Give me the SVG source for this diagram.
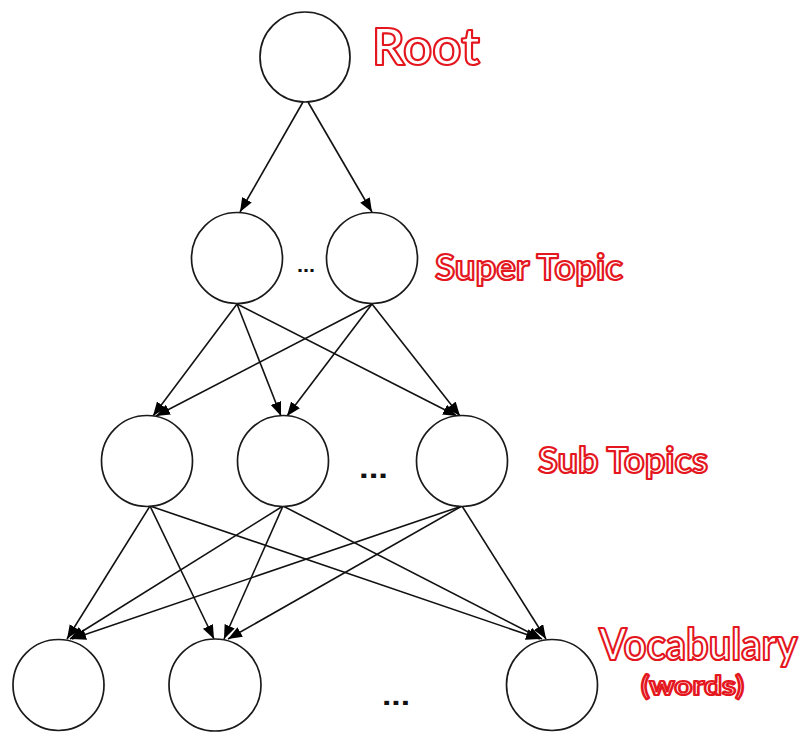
<svg xmlns="http://www.w3.org/2000/svg" width="808" height="733" viewBox="0 0 808 733">
  <defs>
    <marker id="arrow" markerUnits="userSpaceOnUse" markerWidth="15" markerHeight="12" refX="14" refY="5.5" orient="auto">
      <path d="M0,0 L14,5.5 L0,11 Z" fill="#000"/>
    </marker>
    <style>
      .node { fill: #fff; stroke: #1a1a1a; stroke-width: 1.7; }
      .edge { stroke: #111; stroke-width: 1.6; fill: none; marker-end: url(#arrow); }
      .label { font-family: Lato, "Liberation Sans", sans-serif; font-weight: bold; fill: #fff; stroke: #e4161e; stroke-width: 2.2; stroke-linejoin: round; }
      .dots { font-family: "Liberation Sans", Arial, sans-serif; font-weight: bold; fill: #111; }
    </style>
  </defs>
  <rect width="808" height="733" fill="#fff"/>

  <!-- connectors -->
  <g id="edges">
    <!-- root to super topics -->
    <line class="edge" x1="303" y1="102" x2="240" y2="212"/>
    <line class="edge" x1="308" y1="102" x2="372" y2="212"/>
    <!-- super topics to sub topics -->
    <line class="edge" x1="237" y1="304" x2="153" y2="416"/>
    <line class="edge" x1="237" y1="304" x2="281" y2="416"/>
    <line class="edge" x1="237" y1="304" x2="457" y2="416"/>
    <line class="edge" x1="372" y1="304" x2="156" y2="416"/>
    <line class="edge" x1="372" y1="304" x2="287" y2="416"/>
    <line class="edge" x1="372" y1="304" x2="460" y2="416"/>
    <!-- sub topics to vocabulary -->
    <line class="edge" x1="150" y1="506" x2="67" y2="639"/>
    <line class="edge" x1="150" y1="506" x2="214" y2="639"/>
    <line class="edge" x1="150" y1="506" x2="540" y2="639"/>
    <line class="edge" x1="283" y1="506" x2="70" y2="639"/>
    <line class="edge" x1="283" y1="506" x2="224" y2="639"/>
    <line class="edge" x1="283" y1="506" x2="542" y2="639"/>
    <line class="edge" x1="462" y1="506" x2="72" y2="639"/>
    <line class="edge" x1="462" y1="506" x2="228" y2="639"/>
    <line class="edge" x1="462" y1="506" x2="546" y2="639"/>
  </g>

  <!-- root -->
  <g id="root">
    <circle class="node" cx="305" cy="57" r="45"/>
    <text class="label" x="372" y="65" font-size="52" textLength="108" lengthAdjust="spacingAndGlyphs">Root</text>
  </g>

  <!-- super topics -->
  <g id="super-1">
    <circle class="node" cx="237" cy="258" r="45.5"/>
  </g>
  <g id="super-2">
    <circle class="node" cx="372" cy="258" r="45.5"/>
  </g>
  <g id="super-label">
    <text class="dots" x="297" y="272" font-size="20" textLength="18" lengthAdjust="spacingAndGlyphs">...</text>
    <text class="label" x="435" y="280" font-size="36" textLength="188" lengthAdjust="spacingAndGlyphs">Super Topic</text>
  </g>

  <!-- sub topics -->
  <g id="sub-1">
    <circle class="node" cx="147" cy="461" r="45.5"/>
  </g>
  <g id="sub-2">
    <circle class="node" cx="283" cy="461" r="45.5"/>
  </g>
  <g id="sub-3">
    <circle class="node" cx="462" cy="461" r="45.5"/>
  </g>
  <g id="sub-label">
    <text class="dots" x="359" y="478" font-size="30" textLength="29" lengthAdjust="spacingAndGlyphs">...</text>
    <text class="label" x="538" y="473" font-size="36" textLength="170" lengthAdjust="spacingAndGlyphs">Sub Topics</text>
  </g>

  <!-- vocabulary -->
  <g id="word-1">
    <circle class="node" cx="58.5" cy="685" r="45.5"/>
  </g>
  <g id="word-2">
    <circle class="node" cx="215" cy="685" r="46"/>
  </g>
  <g id="word-3">
    <circle class="node" cx="552" cy="685" r="45.5"/>
  </g>
  <g id="vocab-label">
    <text class="dots" x="382" y="705" font-size="28" textLength="28" lengthAdjust="spacingAndGlyphs">...</text>
    <text class="label" transform="translate(599 660) scale(0.93 1)" x="0" y="0" font-size="43">Vocabulary</text>
    <text class="label" x="641" y="695" font-size="26" stroke-width="1.2" textLength="103" lengthAdjust="spacingAndGlyphs">(words)</text>
  </g>
</svg>
